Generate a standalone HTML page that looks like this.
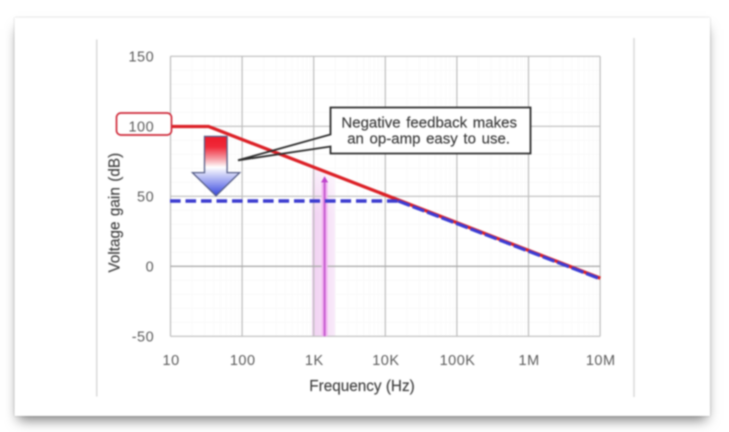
<!DOCTYPE html>
<html><head><meta charset="utf-8"><style>
html,body{margin:0;padding:0;background:#ffffff;width:729px;height:432px;overflow:hidden;}
.wrap{position:absolute;left:0;top:0;width:1458px;height:864px;transform:scale(0.5);transform-origin:0 0;will-change:transform;}
.inner{position:absolute;left:0;top:0;width:1458px;height:864px;filter:blur(1.6px);}
.card{position:absolute;left:29px;top:35px;width:1391px;height:797px;background:#ffffff;
box-shadow:0 15px 24px -7px rgba(0,0,0,.52), 0 0 3px rgba(0,0,0,.28);}
svg{position:absolute;left:0;top:0;}
text{font-family:"Liberation Sans",Arial,sans-serif;}
.tk{font-size:14.5px;fill:#5c5c5c;letter-spacing:0.5px;}
.ti{font-size:15.3px;fill:#404040;stroke:#404040;stroke-width:0.15px;}
.co{font-size:15px;fill:#383838;stroke:#383838;stroke-width:0.15px;}
</style></head><body>
<div class="wrap"><div class="inner"><div class="card"></div>
<svg width="1458" height="864" viewBox="0 0 729 432">
<path d="M96.75 39.5V396.5M634 38V397" stroke="#dadada" stroke-width="1.5" fill="none"/>
<path d="M192.05 56.30V336.30 M204.66 56.30V336.30 M213.61 56.30V336.30 M220.55 56.30V336.30 M226.22 56.30V336.30 M231.01 56.30V336.30 M235.16 56.30V336.30 M238.82 56.30V336.30 M263.65 56.30V336.30 M276.26 56.30V336.30 M285.21 56.30V336.30 M292.15 56.30V336.30 M297.82 56.30V336.30 M302.61 56.30V336.30 M306.76 56.30V336.30 M310.42 56.30V336.30 M335.25 56.30V336.30 M347.86 56.30V336.30 M356.81 56.30V336.30 M363.75 56.30V336.30 M369.42 56.30V336.30 M374.21 56.30V336.30 M378.36 56.30V336.30 M382.02 56.30V336.30 M406.85 56.30V336.30 M419.46 56.30V336.30 M428.41 56.30V336.30 M435.35 56.30V336.30 M441.02 56.30V336.30 M445.81 56.30V336.30 M449.96 56.30V336.30 M453.62 56.30V336.30 M478.45 56.30V336.30 M491.06 56.30V336.30 M500.01 56.30V336.30 M506.95 56.30V336.30 M512.62 56.30V336.30 M517.41 56.30V336.30 M521.56 56.30V336.30 M525.22 56.30V336.30 M550.05 56.30V336.30 M562.66 56.30V336.30 M571.61 56.30V336.30 M578.55 56.30V336.30 M584.22 56.30V336.30 M589.01 56.30V336.30 M593.16 56.30V336.30 M596.82 56.30V336.30 M170.50 322.30H600.10 M170.50 308.30H600.10 M170.50 294.30H600.10 M170.50 280.30H600.10 M170.50 252.30H600.10 M170.50 238.30H600.10 M170.50 224.30H600.10 M170.50 210.30H600.10 M170.50 182.30H600.10 M170.50 168.30H600.10 M170.50 154.30H600.10 M170.50 140.30H600.10 M170.50 112.30H600.10 M170.50 98.30H600.10 M170.50 84.30H600.10 M170.50 70.30H600.10" stroke="#fafafa" stroke-width="1" fill="none"/>
<defs><linearGradient id="pk" x1="0" y1="0" x2="1" y2="0"><stop offset="0" stop-color="#f0d2f1"/><stop offset="0.45" stop-color="#f4daf5"/><stop offset="1" stop-color="#f9ebfa"/></linearGradient><linearGradient id="ar" x1="0" y1="0" x2="0" y2="1"><stop offset="0" stop-color="#ec1a2a"/><stop offset="0.18" stop-color="#f02a3a"/><stop offset="0.38" stop-color="#f6a0a8"/><stop offset="0.52" stop-color="#ffffff"/><stop offset="0.62" stop-color="#d6d9f8"/><stop offset="0.8" stop-color="#8c95ee"/><stop offset="1" stop-color="#3646dc"/></linearGradient></defs>
<polygon points="312.0,166.55 335.0,175.45 335.0,336.30 312.0,336.30" fill="url(#pk)"/>
<defs><linearGradient id="wf" x1="0" y1="0" x2="0" y2="1"><stop offset="0" stop-color="#ffffff" stop-opacity="0.65"/><stop offset="1" stop-color="#ffffff" stop-opacity="0"/></linearGradient></defs>
<polygon points="312.0,166.55 335.0,175.45 335.0,215 312.0,215" fill="url(#wf)"/>
<path d="M170.50 56.30V336.30 M242.10 56.30V336.30 M313.70 56.30V336.30 M385.30 56.30V336.30 M456.90 56.30V336.30 M528.50 56.30V336.30 M600.10 56.30V336.30 M170.50 56.30H600.10 M170.50 126.30H600.10 M170.50 196.30H600.10 M170.50 336.30H600.10" stroke="#bcbcbc" stroke-width="1.2" fill="none"/>
<path d="M170.50 266.30H600.10" stroke="#ababab" stroke-width="1.4" fill="none"/>
<line x1="324.6" y1="183" x2="324.6" y2="336.30" stroke="#f2b6f2" stroke-width="6"/>
<line x1="324.6" y1="181" x2="324.6" y2="336.30" stroke="#c65ccf" stroke-width="2"/>
<polygon points="324.6,176.2 328.20000000000005,182.5 321.0,182.5" fill="#bf44cc"/>
<polyline points="170.5,126.5 208.6,126.5 600.3,278.2" fill="none" stroke="#dc2127" stroke-width="3.3" stroke-linejoin="miter"/>
<polyline points="170,201.0 399.16,201.0" fill="none" stroke="#3b3bd0" stroke-width="3.6" stroke-dasharray="10.6 4.9"/>
<polyline points="398.16,201.0 600.3,278.9" fill="none" stroke="#3c3cd4" stroke-width="3.2" stroke-dasharray="12.5 3"/>
<polygon points="204.5,136.4 227.1,136.4 227.1,172.6 239.7,172.6 216,195.8 192.4,172.6 204.5,172.6" fill="url(#ar)" stroke="#565e88" stroke-width="1.3"/>
<rect x="330.5" y="107.5" width="200" height="46" fill="#ffffff"/>
<path d="M330.5 107.5H530.5V153.5H330.5V146.5L238 160.3L330.5 134.5Z" fill="none" stroke="#2c2c2c" stroke-width="1.8" stroke-linejoin="miter"/>
<rect x="116.5" y="113" width="55" height="22" rx="4.5" ry="4.5" fill="#ffffff" stroke="#d02c3c" stroke-width="1.7"/>
<text x="154.2" y="61.30" text-anchor="end" class="tk">150</text>
<text x="154.2" y="131.30" text-anchor="end" class="tk">100</text>
<text x="154.2" y="201.30" text-anchor="end" class="tk">50</text>
<text x="154.2" y="271.30" text-anchor="end" class="tk">0</text>
<text x="154.2" y="341.30" text-anchor="end" class="tk">-50</text>
<text x="171.10" y="365" text-anchor="middle" class="tk">10</text>
<text x="242.70" y="365" text-anchor="middle" class="tk">100</text>
<text x="314.30" y="365" text-anchor="middle" class="tk">1K</text>
<text x="385.90" y="365" text-anchor="middle" class="tk">10K</text>
<text x="457.50" y="365" text-anchor="middle" class="tk">100K</text>
<text x="529.10" y="365" text-anchor="middle" class="tk">1M</text>
<text x="600.70" y="365" text-anchor="middle" class="tk">10M</text>
<text x="362" y="391.1" text-anchor="middle" class="ti">Frequency (Hz)</text>
<text transform="translate(119.4 212.7) rotate(-90)" x="0" y="0" text-anchor="middle" class="ti" style="word-spacing:1.2px">Voltage gain (dB)</text>
<text x="429.2" y="127.7" text-anchor="middle" class="co" style="word-spacing:1.5px">Negative feedback makes</text>
<text x="428.6" y="143.3" text-anchor="middle" class="co" style="word-spacing:1.5px">an op-amp easy to use.</text>
</svg></div></div>
</body></html>
